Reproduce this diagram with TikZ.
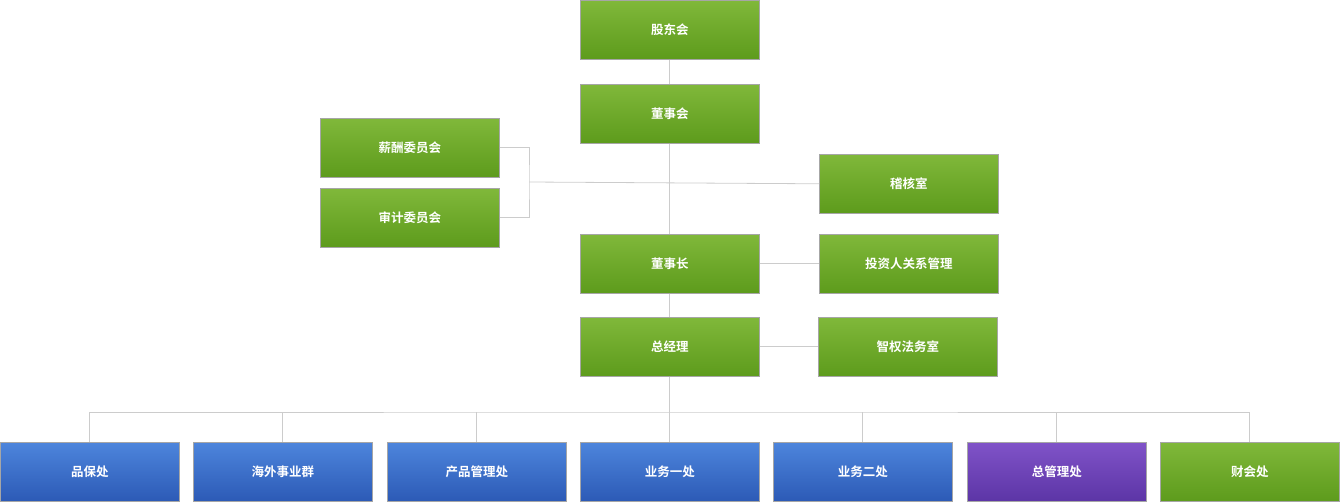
\documentclass[tikz,border=0pt]{standalone}
\usepackage{fontspec}
\newfontfamily\cjk{Noto Sans CJK SC Bold}
\begin{document}
\begin{tikzpicture}[x=1pt,y=-1pt,
  box/.style={draw=black!35,line width=0.6pt,minimum width=179pt,minimum height=59pt,anchor=north west,inner sep=0pt,font=\cjk\fontsize{12.5}{14}\selectfont,text=white},
  gbox/.style={box,top color=green!40!black!0!gtop,bottom color=gbot},
  bbox/.style={box,top color=btop,bottom color=bbot},
  pbox/.style={box,top color=ptop,bottom color=pbot},
  ln/.style={draw=black!20,line width=0.8pt}]
\definecolor{gtop}{HTML}{80B83A}\definecolor{gbot}{HTML}{5D9B1C}
\definecolor{btop}{HTML}{4D85DC}\definecolor{bbot}{HTML}{2C5AB6}
\definecolor{ptop}{HTML}{8053C8}\definecolor{pbot}{HTML}{5C35A6}
\useasboundingbox (0,0) rectangle (1340,502);
\node[gbox] (gd) at (580,0) {股东会};
\node[gbox] (dsh) at (580,84) {董事会};
\node[gbox] (xc) at (320,118) {薪酬委员会};
\node[gbox] (sj) at (320,188) {审计委员会};
\node[gbox] (jh) at (819,154) {稽核室};
\node[gbox] (dsz) at (580,234) {董事长};
\node[gbox] (tz) at (819,234) {投资人关系管理};
\node[gbox] (zjl) at (580,317) {总经理};
\node[gbox] (zq) at (818,317) {智权法务室};
\node[bbox] (b1) at (0,442) {品保处};
\node[bbox] (b2) at (193,442) {海外事业群};
\node[bbox] (b3) at (387,442) {产品管理处};
\node[bbox] (b4) at (580,442) {业务一处};
\node[bbox] (b5) at (773,442) {业务二处};
\node[pbox] (b6) at (967,442) {总管理处};
\node[gbox] (b7) at (1160,442) {财会处};
\coordinate (bx) at (529,182);
\coordinate (bus) at (672,412);
\begin{scope}[on background layer/.try]
\draw[ln] (gd.south) -- (dsh.north);
\draw[ln] (dsh.south) -- (dsz.north);
\draw[ln] (dsz.south) -- (zjl.north);
\draw[ln] (zjl.south) -- (b4.north);
\draw[ln] (xc.east) -| (bx) |- (sj.east);
\draw[ln] (bx) -- (jh.west);
\draw[ln] (dsz.east) -- (tz.west);
\draw[ln] (zjl.east) -- (zq.west);
\draw[ln] (b1.north) |- (bus) -| (b7.north);
\foreach \b in {b2,b3,b5,b6} \draw[ln] (\b.north) -- (\b.north |- bus);
\end{scope}
\end{tikzpicture}
\end{document}
